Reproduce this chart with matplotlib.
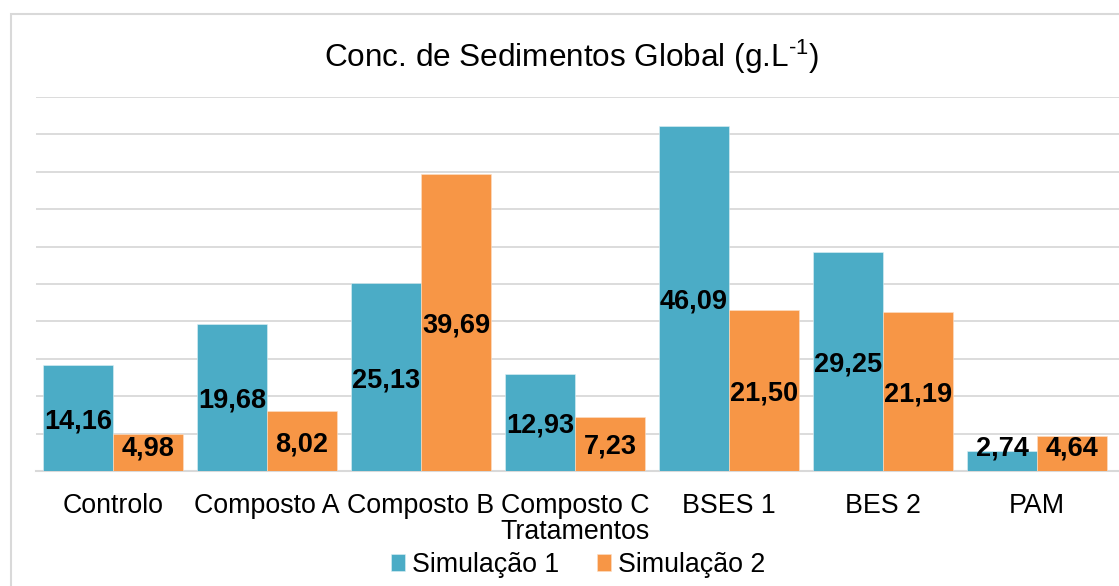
import matplotlib.pyplot as plt
from matplotlib.patches import Rectangle
import numpy as np

plt.rcParams['font.family'] = ['Liberation Sans', 'DejaVu Sans']
plt.rcParams['mathtext.fontset'] = 'custom'
plt.rcParams['mathtext.rm'] = 'Liberation Sans'
plt.rcParams['mathtext.it'] = 'Liberation Sans'

tratamentos = ['Controlo', 'Composto A', 'Composto B', 'Composto C', 'BSES 1', 'BES 2', 'PAM']
simulacao_1 = [14.16, 19.68, 25.13, 12.93, 46.09, 29.25, 2.74]
simulacao_2 = [4.98, 8.02, 39.69, 7.23, 21.50, 21.19, 4.64]

cor1 = '#4BACC6'
cor2 = '#F79646'
cinza = '#D9D9D9'

fig = plt.figure(figsize=(11.19, 5.86), dpi=100)
ax = fig.add_axes([36 / 1119, 1 - 471 / 586, (1119 - 36) / 1119, 374 / 586])

x = np.arange(len(tratamentos))
largura = 70 / 154
b1 = ax.bar(x - largura / 2, simulacao_1, largura, color=cor1, edgecolor='#dff0f4', linewidth=0.4,
            label='Simulação 1', zorder=3)
b2 = ax.bar(x + largura / 2, simulacao_2, largura, color=cor2, edgecolor='#fde0c8', linewidth=0.4,
            label='Simulação 2', zorder=3)

# rótulos de valor, centrados na barra (com altura mínima para não cortar no eixo)
for barras, valores in [(b1, simulacao_1), (b2, simulacao_2)]:
    for b, v in zip(barras, valores):
        y = max(v / 2, 3.4)
        ax.text(b.get_x() + b.get_width() / 2, y, f'{v:.2f}'.replace('.', ','),
                ha='center', va='center_baseline', fontsize=19.5, fontweight='bold',
                color='black', zorder=4)

ax.set_xlim(-0.5, (1119 - 36) / 154 - 0.5)
ax.set_ylim(0, 50)
ax.set_yticks(np.arange(0, 51, 5))
ax.yaxis.grid(True, color=cinza, linewidth=1.3, zorder=0)
ax.tick_params(axis='y', left=False, labelleft=False)
ax.set_xticks(x)
ax.set_xticklabels(tratamentos, fontsize=19.3)
ax.tick_params(axis='x', length=0, pad=15.5)
for s in ['top', 'right', 'left']:
    ax.spines[s].set_visible(False)
ax.spines['bottom'].set_color(cinza)
ax.spines['bottom'].set_linewidth(1.5)

ax.set_xlabel('Tratamentos', fontsize=19.3)
ax.xaxis.set_label_coords((575 - 36) / (1119 - 36), -(519 - 471) / 374)

fig.text(572 / 1119, 1 - 57 / 586, r'Conc. de Sedimentos Global (g.L$^{\text{-1}}$)',
         ha='center', va='center', fontsize=22.7)

fig.legend(loc='center', bbox_to_anchor=(578 / 1119, 1 - 565 / 586), ncol=2, frameon=False,
           fontsize=19.3, handlelength=0.55, handleheight=0.55, handletextpad=0.25,
           columnspacing=1.4)

# moldura da área do gráfico
fig.patches.append(Rectangle((11 / 1119, -0.1), 1.2, 1 - 14 / 586 + 0.1, transform=fig.transFigure,
                             fill=False, edgecolor=cinza, linewidth=1.5))

fig.savefig('out.png', dpi=100)
